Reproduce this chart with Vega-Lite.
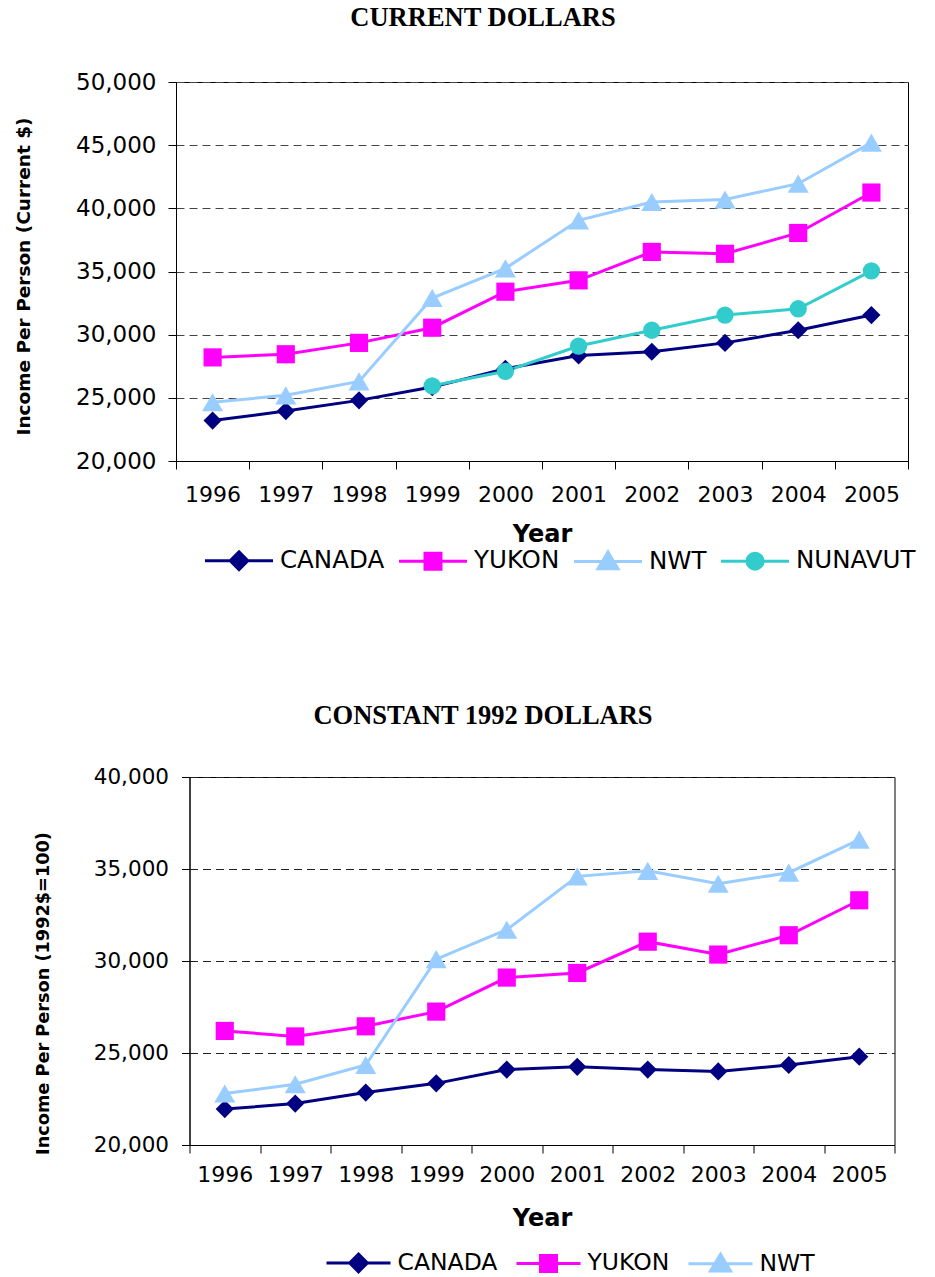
{
  "$schema": "https://vega.github.io/schema/vega-lite/v6.json",
  "padding": {"left": 13, "top": 4, "right": 0, "bottom": 0},
  "background": "white",
  "datasets": {
    "current": [
      {"year": "1996", "series": "CANADA", "income": 23200},
      {"year": "1997", "series": "CANADA", "income": 23950},
      {"year": "1998", "series": "CANADA", "income": 24800},
      {"year": "1999", "series": "CANADA", "income": 25850},
      {"year": "2000", "series": "CANADA", "income": 27300},
      {"year": "2001", "series": "CANADA", "income": 28350},
      {"year": "2002", "series": "CANADA", "income": 28650},
      {"year": "2003", "series": "CANADA", "income": 29350},
      {"year": "2004", "series": "CANADA", "income": 30350},
      {"year": "2005", "series": "CANADA", "income": 31550},
      {"year": "1996", "series": "YUKON", "income": 28200},
      {"year": "1997", "series": "YUKON", "income": 28450},
      {"year": "1998", "series": "YUKON", "income": 29350},
      {"year": "1999", "series": "YUKON", "income": 30550},
      {"year": "2000", "series": "YUKON", "income": 33400},
      {"year": "2001", "series": "YUKON", "income": 34300},
      {"year": "2002", "series": "YUKON", "income": 36550},
      {"year": "2003", "series": "YUKON", "income": 36400},
      {"year": "2004", "series": "YUKON", "income": 38050},
      {"year": "2005", "series": "YUKON", "income": 41250},
      {"year": "1996", "series": "NWT", "income": 24650},
      {"year": "1997", "series": "NWT", "income": 25200},
      {"year": "1998", "series": "NWT", "income": 26300},
      {"year": "1999", "series": "NWT", "income": 32900},
      {"year": "2000", "series": "NWT", "income": 35250},
      {"year": "2001", "series": "NWT", "income": 39050},
      {"year": "2002", "series": "NWT", "income": 40500},
      {"year": "2003", "series": "NWT", "income": 40700},
      {"year": "2004", "series": "NWT", "income": 41950},
      {"year": "2005", "series": "NWT", "income": 45200},
      {"year": "1999", "series": "NUNAVUT", "income": 25950},
      {"year": "2000", "series": "NUNAVUT", "income": 27100},
      {"year": "2001", "series": "NUNAVUT", "income": 29100},
      {"year": "2002", "series": "NUNAVUT", "income": 30350},
      {"year": "2003", "series": "NUNAVUT", "income": 31550},
      {"year": "2004", "series": "NUNAVUT", "income": 32050},
      {"year": "2005", "series": "NUNAVUT", "income": 35050}
    ],
    "constant": [
      {"year": "1996", "series": "CANADA", "income": 21950},
      {"year": "1997", "series": "CANADA", "income": 22250},
      {"year": "1998", "series": "CANADA", "income": 22850},
      {"year": "1999", "series": "CANADA", "income": 23350},
      {"year": "2000", "series": "CANADA", "income": 24100},
      {"year": "2001", "series": "CANADA", "income": 24250},
      {"year": "2002", "series": "CANADA", "income": 24100},
      {"year": "2003", "series": "CANADA", "income": 24000},
      {"year": "2004", "series": "CANADA", "income": 24350},
      {"year": "2005", "series": "CANADA", "income": 24800},
      {"year": "1996", "series": "YUKON", "income": 26200},
      {"year": "1997", "series": "YUKON", "income": 25900},
      {"year": "1998", "series": "YUKON", "income": 26450},
      {"year": "1999", "series": "YUKON", "income": 27250},
      {"year": "2000", "series": "YUKON", "income": 29100},
      {"year": "2001", "series": "YUKON", "income": 29350},
      {"year": "2002", "series": "YUKON", "income": 31050},
      {"year": "2003", "series": "YUKON", "income": 30350},
      {"year": "2004", "series": "YUKON", "income": 31400},
      {"year": "2005", "series": "YUKON", "income": 33300},
      {"year": "1996", "series": "NWT", "income": 22800},
      {"year": "1997", "series": "NWT", "income": 23300},
      {"year": "1998", "series": "NWT", "income": 24350},
      {"year": "1999", "series": "NWT", "income": 30100},
      {"year": "2000", "series": "NWT", "income": 31700},
      {"year": "2001", "series": "NWT", "income": 34600},
      {"year": "2002", "series": "NWT", "income": 34900},
      {"year": "2003", "series": "NWT", "income": 34200},
      {"year": "2004", "series": "NWT", "income": 34800},
      {"year": "2005", "series": "NWT", "income": 36600}
    ]
  },
  "spacing": 316,
  "bounds": "flush",
  "center": true,
  "resolve": {
    "scale": {"color": "independent"},
    "legend": {"color": "independent"}
  },
  "vconcat": [
    {
      "width": 732,
      "height": 379,
      "title": {"text": "CURRENT DOLLARS", "font": "Liberation Serif", "fontSize": 26.5, "fontWeight": "bold", "color": "#000", "anchor": "middle", "dx": -59, "offset": 40},
      "data": {"name": "current"},
      "encoding": {
        "x": {
          "field": "year", "type": "ordinal", "title": "Year", "bandPosition": 0.5,
          "scale": {"type": "band", "paddingInner": 0, "paddingOuter": 0},
          "axis": {"labelAngle": 0, "tickBand": "extent", "tickSize": 8, "labelFont": "DejaVu Sans", "labelFontSize": 22, "labelPadding": 15, "titleFont": "DejaVu Sans", "titleFontSize": 24, "titleFontWeight": "bold", "titlePadding": 17, "domainColor": "#000", "tickColor": "#000", "labelColor": "#000", "titleColor": "#000", "grid": false}
        },
        "y": {
          "field": "income", "type": "quantitative", "title": "Income Per Person (Current $)",
          "scale": {"domain": [20000, 50000], "nice": false, "zero": false},
          "axis": {"values": [20000, 25000, 30000, 35000, 40000, 45000, 50000], "format": ",d", "tickSize": 8, "labelPadding": 12, "labelFont": "DejaVu Sans", "labelFontSize": 23, "labelColor": "#000", "titleFont": "DejaVu Sans", "titleFontSize": 18.5, "titleFontWeight": "bold", "titleColor": "#000", "titleX": -143, "titleY": 194, "domainColor": "#000", "tickColor": "#000", "grid": true, "gridColor": "#444", "gridDash": [8, 5], "gridWidth": 1}
        },
        "color": {
          "field": "series", "type": "nominal",
          "scale": {"domain": ["CANADA", "YUKON", "NWT", "NUNAVUT"], "range": ["#000080", "#FF00FF", "#99CCFF", "#33CCCC"]},
          "legend": {
            "title": null, "orient": "none", "direction": "horizontal", "legendX": 29, "legendY": 466, "padding": 0,
            "symbolSize": 256, "columnPadding": 8,
            "labelFont": "DejaVu Sans", "labelFontSize": 24.5, "labelColor": "#000", "labelLimit": 300,
            "encode": {
              "symbols": {"update": {
                "shape": {"signal": "datum.value === 'CANADA' ? 'M-4.25,0H4.25M0,-1.1L1.1,0L0,1.1L-1.1,0Z' : datum.value === 'YUKON' ? 'M-4.25,0H4.25M-1,-1H1V1H-1Z' : datum.value === 'NWT' ? 'M-4.25,0H4.25M0,-1.2L1.25,0.9H-1.25Z' : 'M-4.25,0H4.25M1,0A1,1,0,1,1,-1,0A1,1,0,1,1,1,0Z'"},
                "fill": {"signal": "datum.value === 'CANADA' ? '#000080' : datum.value === 'YUKON' ? '#FF00FF' : datum.value === 'NWT' ? '#99CCFF' : '#33CCCC'"},
                "stroke": {"signal": "datum.value === 'CANADA' ? '#000080' : datum.value === 'YUKON' ? '#FF00FF' : datum.value === 'NWT' ? '#99CCFF' : '#33CCCC'"},
                "strokeWidth": {"value": 3},
                "strokeDash": {"value": []},
                "size": {"value": 256},
                "x": {"value": 34},
                "opacity": {"value": 1},
                "fillOpacity": {"value": 1},
                "strokeOpacity": {"value": 1}
              }},
              "labels": {"update": {"x": {"value": 75}}}
            }
          }
        }
      },
      "layer": [
        {"mark": {"type": "line", "strokeWidth": 3}},
        {"transform": [{"filter": "datum.series === 'CANADA'"}], "mark": {"type": "point", "shape": "diamond", "size": 330, "filled": true, "opacity": 1}},
        {"transform": [{"filter": "datum.series === 'YUKON'"}], "mark": {"type": "point", "shape": "square", "size": 330, "filled": true, "opacity": 1}},
        {"transform": [{"filter": "datum.series === 'NWT'"}], "mark": {"type": "point", "shape": "triangle-up", "size": 440, "filled": true, "opacity": 1}},
        {"transform": [{"filter": "datum.series === 'NUNAVUT'"}], "mark": {"type": "point", "shape": "circle", "size": 300, "filled": true, "opacity": 1}}
      ]
    },
    {
      "width": 705,
      "height": 368,
      "title": {"text": "CONSTANT 1992 DOLLARS", "font": "Liberation Serif", "fontSize": 26.5, "fontWeight": "bold", "color": "#000", "anchor": "middle", "dx": -59, "offset": 37},
      "data": {"name": "constant"},
      "encoding": {
        "x": {
          "field": "year", "type": "ordinal", "title": "Year", "bandPosition": 0.5,
          "scale": {"type": "band", "paddingInner": 0, "paddingOuter": 0},
          "axis": {"labelAngle": 0, "tickBand": "extent", "tickSize": 8, "labelFont": "DejaVu Sans", "labelFontSize": 22, "labelPadding": 11, "titleFont": "DejaVu Sans", "titleFontSize": 24, "titleFontWeight": "bold", "titlePadding": 21, "domainColor": "#000", "tickColor": "#000", "labelColor": "#000", "titleColor": "#000", "grid": false}
        },
        "y": {
          "field": "income", "type": "quantitative", "title": "Income Per Person (1992$=100)",
          "scale": {"domain": [20000, 40000], "nice": false, "zero": false},
          "axis": {"values": [20000, 25000, 30000, 35000, 40000], "format": ",d", "tickSize": 8, "labelPadding": 13, "labelFont": "DejaVu Sans", "labelFontSize": 21.5, "labelColor": "#000", "titleFont": "DejaVu Sans", "titleFontSize": 17.7, "titleFontWeight": "bold", "titleColor": "#000", "titleX": -137, "titleY": 216, "domainColor": "#000", "tickColor": "#000", "grid": true, "gridColor": "#222", "gridDash": [8, 5], "gridWidth": 1}
        },
        "color": {
          "field": "series", "type": "nominal",
          "scale": {"domain": ["CANADA", "YUKON", "NWT"], "range": ["#000080", "#FF00FF", "#99CCFF"]},
          "legend": {
            "title": null, "orient": "none", "direction": "horizontal", "legendX": 137, "legendY": 474, "padding": 0,
            "symbolSize": 256, "columnPadding": 13,
            "labelFont": "DejaVu Sans", "labelFontSize": 23.5, "labelColor": "#000", "labelLimit": 300,
            "encode": {
              "symbols": {"update": {
                "shape": {"signal": "datum.value === 'CANADA' ? 'M-4,0H4M0,-1.1L1.1,0L0,1.1L-1.1,0Z' : datum.value === 'YUKON' ? 'M-4,0H4M-1,-1H1V1H-1Z' : 'M-4,0H4M0,-1.2L1.25,0.9H-1.25Z'"},
                "fill": {"signal": "datum.value === 'CANADA' ? '#000080' : datum.value === 'YUKON' ? '#FF00FF' : '#99CCFF'"},
                "stroke": {"signal": "datum.value === 'CANADA' ? '#000080' : datum.value === 'YUKON' ? '#FF00FF' : '#99CCFF'"},
                "strokeWidth": {"value": 3},
                "strokeDash": {"value": []},
                "size": {"value": 256},
                "x": {"value": 32},
                "opacity": {"value": 1},
                "fillOpacity": {"value": 1},
                "strokeOpacity": {"value": 1}
              }},
              "labels": {"update": {"x": {"value": 71}}}
            }
          }
        }
      },
      "layer": [
        {"mark": {"type": "line", "strokeWidth": 3}},
        {"transform": [{"filter": "datum.series === 'CANADA'"}], "mark": {"type": "point", "shape": "diamond", "size": 330, "filled": true, "opacity": 1}},
        {"transform": [{"filter": "datum.series === 'YUKON'"}], "mark": {"type": "point", "shape": "square", "size": 330, "filled": true, "opacity": 1}},
        {"transform": [{"filter": "datum.series === 'NWT'"}], "mark": {"type": "point", "shape": "triangle-up", "size": 440, "filled": true, "opacity": 1}}
      ]
    }
  ],
  "config": {
    "view": {"stroke": "#000", "strokeWidth": 1}
  }
}
